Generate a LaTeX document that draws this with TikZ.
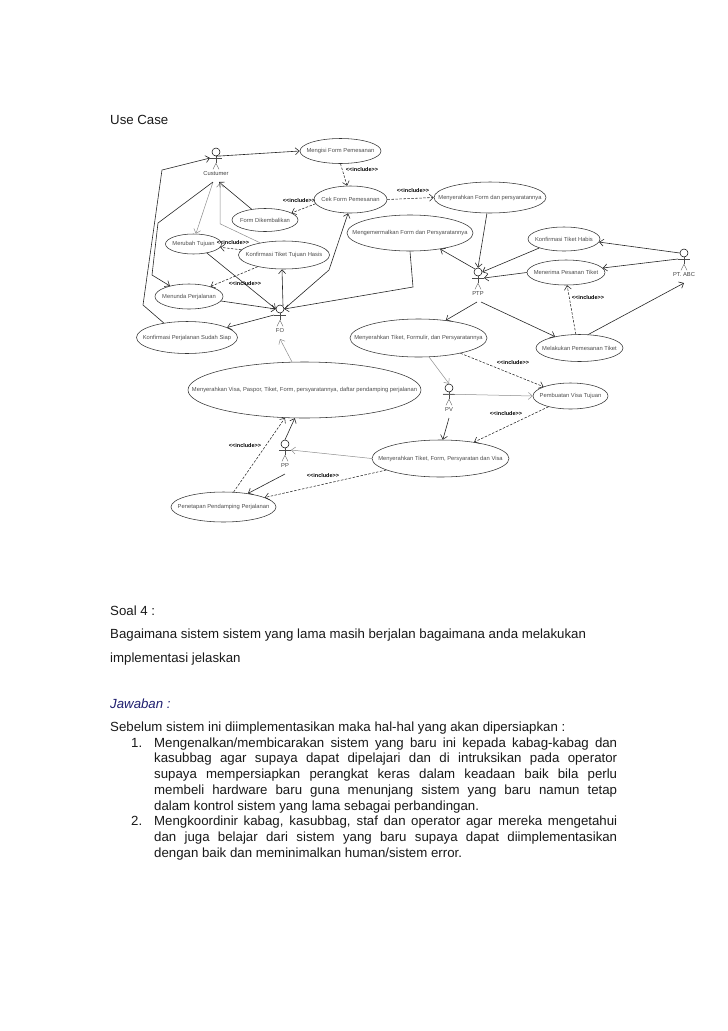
\documentclass[tikz,border=0pt]{standalone}
\usepackage{fontspec}
\setmainfont{Liberation Sans}
\usepackage{xcolor}
\usetikzlibrary{shapes.geometric, arrows.meta, positioning}
\definecolor{jawabcol}{RGB}{30,30,110}
\hyphenpenalty=10000
\tolerance=9999

\newcommand{\actorfig}[4]{%
    \node[head] (#1) at (#2,#3) {};
    \draw[stick] (#1.south) -- ++(0,7) coordinate (#1hip);
    \coordinate (#1armL) at (#2-6,#3+6);
    \coordinate (#1armR) at (#2+6,#3+6);
    \coordinate (#1foot) at (#2,#3+30);
    \draw[stick] (#1armL) -- (#1armR);
    \draw[stick] (#1hip) -- ++(-3,6) (#1hip) -- ++(3,6);
    \node[actorlbl] (#1lbl) at (#2,#3+21) {#4};
}
\newcommand{\ucase}[6]{%
    \node[usecase, minimum width=#4pt, minimum height=#5pt, label={[uclbl]center:{#6}}] (#1) at (#2,#3) {};
}

\begin{document}
\begin{tikzpicture}[x=1pt, y=-1pt,
    usecase/.style={draw, ellipse, inner sep=0pt, line width=0.55pt, draw=black!80},
    uclbl/.style={inner sep=0pt, font=\fontsize{5.8}{7}\selectfont, text=black!70},
    head/.style={draw, circle, minimum size=8pt, inner sep=0pt, line width=0.5pt},
    stick/.style={draw, black!70, line width=0.4pt},
    actorlbl/.style={inner sep=0pt, font=\fontsize{5.8}{7}\selectfont, text=black!75},
    inclbl/.style={inner sep=0pt, font=\fontsize{5.5}{7}\selectfont\bfseries},
    arrow/.style={draw, line width=0.6pt, black!85, ->, >={Straight Barb[length=4pt,width=7pt]}},
    arrowg/.style={draw, black!45, line width=0.5pt, ->, >={Straight Barb[length=4pt,width=7pt]}},
    incl/.style={draw, line width=0.55pt, black!85, dash pattern=on 2.5pt off 1.5pt, ->, >={Straight Barb[length=4pt,width=7pt]}},
    body/.style={anchor=base west, inner sep=0pt, font=\fontsize{13.25}{15.7}\selectfont, text=black!90},
    para/.style={anchor=north west, inner sep=0pt, text width=463pt, align=justify, font=\fontsize{13.25}{15.72}\selectfont, text=black!90}
]
    \useasboundingbox (0,0) rectangle (728,1031);

    % Use cases
    \ucase{mengisi}{340.5}{151}{81}{25}{Mengisi Form Pemesanan}
    \ucase{cek}{350.5}{199.5}{73}{27}{Cek Form Pemesanan}
    \ucase{kembali}{265}{220}{66}{23}{Form Dikembalikan}
    \ucase{merubah}{193.5}{244}{56}{20}{Merubah Tujuan}
    \ucase{konftujuan}{284}{255}{91}{28}{Konfirmasi Tiket Tujuan Hasis}
    \ucase{menunda}{189}{296.5}{68}{25}{Menunda Perjalanan}
    \ucase{konfsiap}{187}{337.5}{101}{32}{Konfirmasi Perjalanan Sudah Siap}
    \ucase{mengemas}{410}{233}{126}{36}{Mengemermalkan Form dan Persyaratannya}
    \ucase{serahform}{490}{197.5}{112}{31}{Menyerahkan Form dan persyaratannya}
    \ucase{habis}{564}{239}{72}{24}{Konfirmasi Tiket Habis}
    \ucase{terima}{566}{272.5}{78}{25}{Menerima Pesanan Tiket}
    \ucase{lakukan}{579.5}{348}{87}{27}{Melakukan Pemesanan Tiket}
    \ucase{serahtiket}{418.5}{338}{137}{38}{Menyerahkan Tiket, Formulir, dan Persyaratannya}
    \ucase{serahvisa}{304.5}{390}{233}{56}{Menyerahkan Visa, Paspor, Tiket, Form, persyaratannya, daftar pendamping perjalanan}
    \ucase{buatvisa}{570.5}{396}{75}{26}{Pembuatan Visa Tujuan}
    \ucase{serahsyarat}{440.5}{458.5}{137}{37}{Menyerahkan Tiket, Form, Persyaratan dan Visa}
    \ucase{tetap}{223.5}{507}{105}{30}{Penetapan Pendamping Perjalanan}

    % Actors
    \actorfig{cust}{216}{152}{Custumer}
    \actorfig{fo}{280}{309}{FO}
    \actorfig{ptp}{478}{272}{PTP}
    \actorfig{ptabc}{684}{253}{PT. ABC}
    \actorfig{pv}{449}{388}{PV}
    \actorfig{pp}{285}{444}{PP}

    % Connections
    \draw[arrow] (cust.south) -- (mengisi.west);
    \draw[incl] (mengisi.south) -- (cek.104);
    \draw[incl] (cek.187) -- (kembali.15);
    \draw[incl] (cek.east) -- (serahform.west);
    \draw[arrow] (kembali.141) -- ([xshift=3pt]custfoot);
    \draw[arrowg] (konftujuan.153) -- ++(-40,-19) -- ++(0,-41);
    \draw[arrowg] ([xshift=-3pt]custfoot) -- (merubah.77);
    \draw[arrow] ([xshift=-3pt]custfoot) -- (158,223) -- (152,275) -- (menunda.151);
    \draw[arrow] (konfsiap.148) -- (143,305) -- (162,170) -- (custarmL);
    \draw[incl] (konftujuan.173) -- (merubah.353);
    \draw[incl] (konftujuan.204) -- (menunda.25);
    \draw[arrow] (merubah.326) -- (fo.west);
    \draw[arrow] (menunda.352) -- (fo.west);
    \draw[arrow] (fo.north east) -- (konftujuan.262);
    \draw[arrow] (fo.east) -- (329,270) -- (cek.260);
    \draw[arrow] (mengemas.south) -- (413,287) -- (fo.east);
    \draw[arrow] (foarmL) -- (konfsiap.14);
    \draw[arrowg] (serahvisa.114) -- (fofoot);
    \draw[arrow] (pp.north) -- (serahvisa.251);
    \draw[incl] (tetap.56) -- (serahvisa.235);
    \draw[arrowg] (serahsyarat.west) -- (pparmR);
    \draw[arrow] (ppfoot) -- (tetap.29);
    \draw[incl] (serahsyarat.192) -- (tetap.13);
    \draw[arrow] (serahform.259) -- (ptp.north);
    \draw[arrow] (ptp.north west) -- (mengemas.332);
    \draw[arrow] (habis.200) -- (ptp.east);
    \draw[arrow] (terima.west) -- (ptparmR);
    \draw[arrow] (ptabc.west) -- (habis.355);
    \draw[arrow] (ptabcarmL) -- (terima.7);
    \draw[incl] (lakukan.105) -- (terima.275);
    \draw[arrow] (lakukan.57) -- (ptabcfoot);
    \draw[arrow] ([xshift=3pt]ptpfoot) -- (lakukan.155);
    \draw[arrow] ([xshift=-1pt]ptpfoot) -- (serahtiket.33);
    \draw[arrowg] (serahtiket.299) -- (pv.north);
    \draw[incl] (serahtiket.340) -- (buatvisa.161);
    \draw[arrowg] (pvarmL) -- (buatvisa.west);
    \draw[arrow] (pvfoot) -- (serahsyarat.83);
    \draw[incl] (buatvisa.206) -- (serahsyarat.26);

    % Include labels
    \node[inclbl] (inc1) at (362,170) {<{}<include>{}>};
    \node[inclbl] (inc2) at (299,201) {<{}<include>{}>};
    \node[inclbl] (inc3) at (413,191) {<{}<include>{}>};
    \node[inclbl] (inc4) at (233,243) {<{}<include>{}>};
    \node[inclbl] (inc5) at (245,284) {<{}<include>{}>};
    \node[inclbl] (inc6) at (245,446) {<{}<include>{}>};
    \node[inclbl] (inc7) at (323,476) {<{}<include>{}>};
    \node[inclbl] (inc8) at (588,298) {<{}<include>{}>};
    \node[inclbl] (inc9) at (513,363) {<{}<include>{}>};
    \node[inclbl] (inc10) at (506,414) {<{}<include>{}>};

    % Text
    \node[body] (usecasettl) at (110,124) {Use Case};
    \node[body] (soal) at (110,615.5) {Soal 4 :};
    \node[body] (tanya) at (110,638) {Bagaimana sistem sistem yang lama masih berjalan bagaimana anda melakukan};
    \node[body] (tanya2) at (110,662) {implementasi jelaskan};
    \node[body, text=jawabcol, font=\fontsize{13.25}{15.7}\selectfont\itshape] (jawab) at (110,708) {Jawaban :};
    \node[body] (sebelum) at (110,731) {Sebelum sistem ini diimplementasikan maka hal-hal yang akan dipersiapkan :};
    \node[body] (no1) at (131,747) {1.};
    \node[para] (isi1) at (154,737.4) {Mengenalkan/membicarakan sistem yang baru ini kepada kabag-kabag dan\linebreak kasubbag agar supaya dapat dipelajari dan di intruksikan pada operator\linebreak supaya mempersiapkan perangkat keras dalam keadaan baik bila perlu\linebreak membeli hardware baru guna menunjang sistem yang baru namun tetap\linebreak dalam kontrol sistem yang lama sebagai perbandingan.};
    \node[body] (no2) at (131,825.5) {2.};
    \node[para] (isi2) at (154,815.9) {Mengkoordinir kabag, kasubbag, staf dan operator agar mereka mengetahui\linebreak dan juga belajar dari sistem yang baru supaya dapat diimplementasikan\linebreak dengan baik dan meminimalkan human/sistem error.};
\end{tikzpicture}
\end{document}
